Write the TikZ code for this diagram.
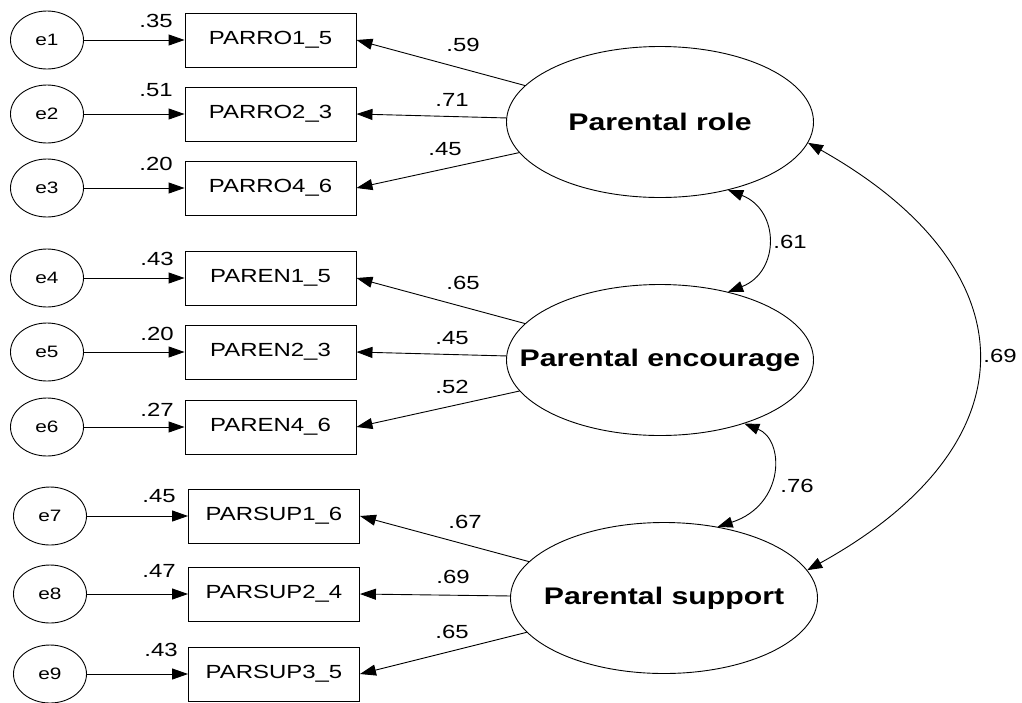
\documentclass[tikz,border=0pt]{standalone}
\usepackage{fontspec}
\usepackage{graphicx}
\setmainfont{Liberation Sans}
\usetikzlibrary{arrows.meta,shapes.geometric}
\newcommand\sx[1]{\scalebox{1.26}[1]{#1}}
\tikzset{
  obs/.style={draw, rectangle, minimum width=171pt, minimum height=54pt, inner sep=0pt, line width=0.9pt,
              font=\fontsize{19}{21}\selectfont},
  err/.style={draw, ellipse, minimum width=73pt, minimum height=58pt, inner sep=0pt, line width=0.9pt,
              font=\fontsize{16.5}{18}\selectfont},
  lat/.style={draw, ellipse, minimum width=307pt, minimum height=151pt, inner sep=0pt, line width=0.9pt,
              font=\fontsize{24}{26}\selectfont\bfseries},
  num/.style={inner sep=0pt, font=\fontsize{19}{21}\selectfont},
  load/.style={line width=0.9pt, -{Triangle[length=16pt,width=11pt]}},
  cov/.style={line width=0.9pt, {Triangle[length=15pt,width=11pt]}-{Triangle[length=15pt,width=11pt]}}
}
\begin{document}
\begin{tikzpicture}[x=1pt,y=-1pt]
\useasboundingbox (0,0) rectangle (1022,702);
% error terms
\node[err] (e1) at (47,40) {\sx{e1}};
\node[err] (e2) at (47,114) {\sx{e2}};
\node[err] (e3) at (47,188) {\sx{e3}};
\node[err] (e4) at (47,278) {\sx{e4}};
\node[err] (e5) at (47,352) {\sx{e5}};
\node[err] (e6) at (47,427) {\sx{e6}};
\node[err] (e7) at (50,516) {\sx{e7}};
\node[err] (e8) at (50,594) {\sx{e8}};
\node[err] (e9) at (50,674) {\sx{e9}};
% observed
\node[obs] (b1) at (270.5,40) {\sx{PARRO1\_5}};
\node[obs] (b2) at (270.5,114) {\sx{PARRO2\_3}};
\node[obs] (b3) at (270.5,188) {\sx{PARRO4\_6}};
\node[obs] (b4) at (270.5,278) {\sx{PAREN1\_5}};
\node[obs] (b5) at (270.5,352) {\sx{PAREN2\_3}};
\node[obs] (b6) at (270.5,427) {\sx{PAREN4\_6}};
\node[obs] (b7) at (274,516) {\sx{PARSUP1\_6}};
\node[obs] (b8) at (274,594) {\sx{PARSUP2\_4}};
\node[obs] (b9) at (274,674) {\sx{PARSUP3\_5}};
% latent
\node[lat] (PR) at (660,122) {\makebox[0pt]{\sx{Parental role}}};
\node[lat] (PE) at (660,360) {\makebox[0pt]{\sx{Parental encourage}}};
\node[lat] (PS) at (664,598) {\makebox[0pt]{\sx{Parental support}}};
% error arrows
\foreach \i in {1,...,9} { \draw[load] (e\i) -- (b\i); }
% loadings
\draw[load] (PR) -- (b1.east);
\draw[load] (PR) -- (b2.east);
\draw[load] (PR) -- (b3.east);
\draw[load] (PE) -- (b4.east);
\draw[load] (PE) -- (b5.east);
\draw[load] (PE) -- (b6.east);
\draw[load] (PS) -- (b7.east);
\draw[load] (PS) -- (b8.east);
\draw[load] (PS) -- (b9.east);
% error labels
\node[num] (n1) at (156,21) {\sx{.35}};
\node[num] (n2) at (156,90) {\sx{.51}};
\node[num] (n3) at (156,164) {\sx{.20}};
\node[num] (n4) at (157,259) {\sx{.43}};
\node[num] (n5) at (157,334) {\sx{.20}};
\node[num] (n6) at (157,410) {\sx{.27}};
\node[num] (n7) at (159,496) {\sx{.45}};
\node[num] (n8) at (159,571) {\sx{.47}};
\node[num] (n9) at (161,650) {\sx{.43}};
% loading labels
\node[num] (l1) at (463,45) {\sx{.59}};
\node[num] (l2) at (452,100) {\sx{.71}};
\node[num] (l3) at (445,149) {\sx{.45}};
\node[num] (l4) at (463,283) {\sx{.65}};
\node[num] (l5) at (452,338) {\sx{.45}};
\node[num] (l6) at (452,387) {\sx{.52}};
\node[num] (l7) at (465,522) {\sx{.67}};
\node[num] (l8) at (453,577) {\sx{.69}};
\node[num] (l9) at (452,632) {\sx{.65}};
% covariances
\draw[cov] (PR.-45) .. controls (780,210) and (780,272) .. (PE.45);
\draw[cov] (PE.-37.6) .. controls (785,440) and (785,505) .. (PS.53);
\draw[cov] (PR.-8) .. controls (1034,270) and (1034,445) .. (PS.11.8);
\node[num] (c1) at (790,242) {\sx{.61}};
\node[num] (c2) at (797,486) {\sx{.76}};
\node[num] (c3) at (1000,356) {\sx{.69}};
\end{tikzpicture}
\end{document}
